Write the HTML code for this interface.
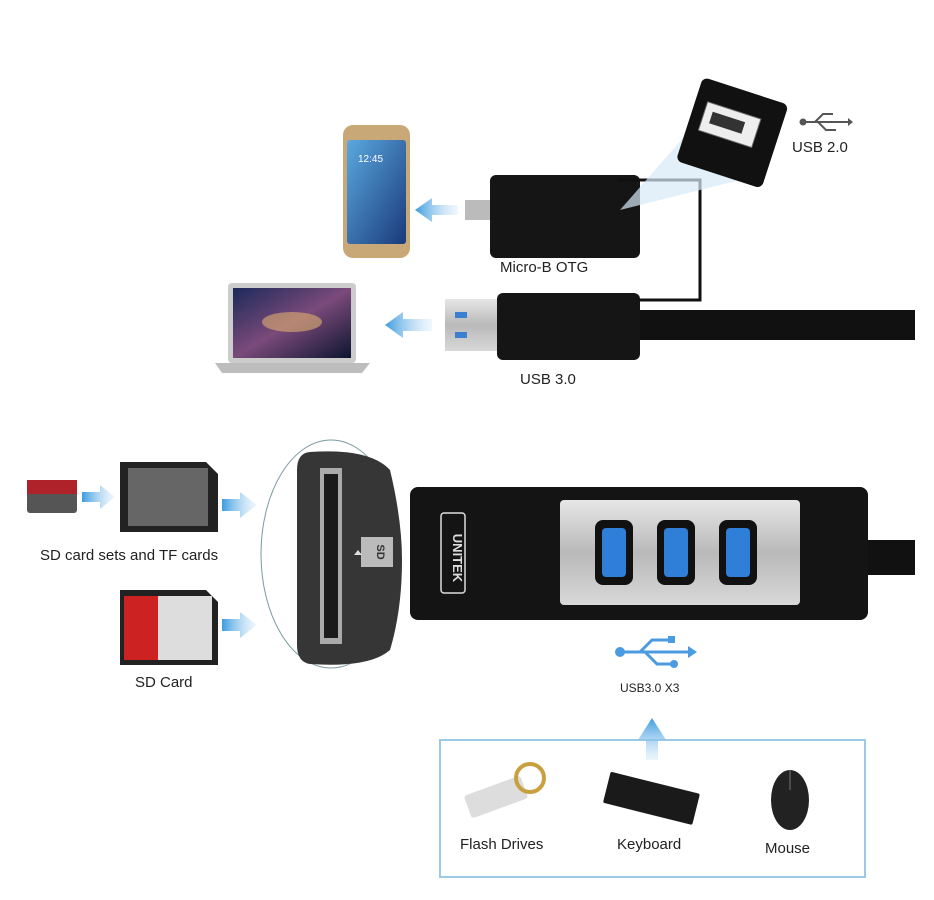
<!DOCTYPE html>
<html><head><meta charset="utf-8"><style>
body{margin:0;background:#fff;width:934px;height:900px;overflow:hidden;position:relative;font-family:"Liberation Sans",sans-serif;color:#222}
.a{position:absolute}
.t{position:absolute;font-size:15px;color:#222;white-space:nowrap}
</style></head><body>
<svg class="a" style="left:0;top:0" width="934" height="900" viewBox="0 0 934 900">
<defs>
<linearGradient id="ar" x1="0" x2="1"><stop offset="0" stop-color="#3d9be0"/><stop offset="1" stop-color="#cfe6f7" stop-opacity=".3"/></linearGradient>
<linearGradient id="arl" x1="1" x2="0"><stop offset="0" stop-color="#cfe6f7" stop-opacity=".3"/><stop offset="1" stop-color="#3d9be0"/></linearGradient>
<linearGradient id="aru" x1="0" y1="0" x2="0" y2="1"><stop offset="0" stop-color="#3d9be0"/><stop offset="1" stop-color="#cfe6f7" stop-opacity=".4"/></linearGradient>
<linearGradient id="sil" x1="0" y1="0" x2="0" y2="1"><stop offset="0" stop-color="#e6e6e6"/><stop offset=".5" stop-color="#b9b9b9"/><stop offset="1" stop-color="#d8d8d8"/></linearGradient>
<linearGradient id="scr" x1="0" y1="0" x2="1" y2="1"><stop offset="0" stop-color="#1c2a5a"/><stop offset=".5" stop-color="#7a4a7a"/><stop offset="1" stop-color="#0d1530"/></linearGradient>
<linearGradient id="ph" x1="0" y1="0" x2="1" y2="1"><stop offset="0" stop-color="#5aa8e0"/><stop offset="1" stop-color="#1a3a7a"/></linearGradient>
</defs>
<rect x="343" y="125" width="67" height="133" rx="10" fill="#c9a878"/>
<rect x="347" y="140" width="59" height="104" rx="3" fill="url(#ph)"/>
<text x="358" y="162" font-size="10" fill="#fff">12:45</text>
<polygon points="415,210 432,198 432,205 458,205 458,215 432,215 432,222" fill="url(#arl)"/>
<polygon points="385,325 403,312 403,319 432,319 432,331 403,331 403,338" fill="url(#arl)"/>
<polygon points="115,497 100,485 100,492 82,492 82,502 100,502 100,509" fill="url(#ar)"/>
<polygon points="257,505 240,492 240,499 222,499 222,511 240,511 240,518" fill="url(#ar)"/>
<polygon points="257,625 240,612 240,619 222,619 222,631 240,631 240,638" fill="url(#ar)"/>
<rect x="465" y="200" width="26" height="20" fill="#bbb"/>
<rect x="490" y="175" width="150" height="83" rx="6" fill="#151515"/>
<polyline points="618,180 700,180 700,300 640,300" fill="none" stroke="#111" stroke-width="3"/>
<polygon points="620,210 690,130 760,175" fill="#d7eaf7" opacity=".7"/>
<g transform="rotate(18 730 130)"><rect x="688" y="88" width="90" height="88" rx="6" fill="#111"/><rect x="700" y="110" width="56" height="30" fill="#eee" stroke="#666"/><rect x="708" y="118" width="34" height="12" fill="#333"/></g>
<rect x="228" y="283" width="128" height="80" rx="4" fill="#ccc"/>
<rect x="233" y="288" width="118" height="70" fill="url(#scr)"/>
<ellipse cx="292" cy="322" rx="30" ry="10" fill="#e0b070" opacity=".6"/>
<path d="M215,363 L370,363 L362,373 L222,373 Z" fill="#bdbdbd"/>
<rect x="445" y="299" width="55" height="52" fill="url(#sil)"/>
<rect x="455" y="312" width="12" height="6" fill="#3a7fd0"/><rect x="455" y="332" width="12" height="6" fill="#3a7fd0"/>
<rect x="497" y="293" width="143" height="67" rx="6" fill="#151515"/>
<rect x="640" y="310" width="275" height="30" fill="#111"/>
<g stroke="#555" stroke-width="2" fill="none"><line x1="804" y1="122" x2="848" y2="122"/><polyline points="815,122 823,114 833,114"/><polyline points="818,122 826,130 836,130"/></g>
<circle cx="803" cy="122" r="3.5" fill="#555"/><polygon points="848,118 853,122 848,126" fill="#555"/>
<g stroke="#4a9be0" stroke-width="3" fill="none"><line x1="620" y1="652" x2="690" y2="652"/><polyline points="640,652 652,640 668,640"/><polyline points="645,652 657,664 672,664"/></g>
<circle cx="620" cy="652" r="5" fill="#4a9be0"/><polygon points="688,646 697,652 688,658" fill="#4a9be0"/><rect x="668" y="636" width="7" height="7" fill="#4a9be0"/><circle cx="674" cy="664" r="4" fill="#4a9be0"/>
<rect x="27" y="480" width="50" height="33" rx="3" fill="#555"/><rect x="27" y="480" width="50" height="14" fill="#b0222a"/>
<path d="M120,462 L206,462 L218,474 L218,532 L120,532 Z" fill="#222"/><rect x="128" y="468" width="80" height="58" fill="#666"/>
<path d="M120,590 L206,590 L218,602 L218,665 L120,665 Z" fill="#222"/><rect x="124" y="596" width="34" height="64" fill="#c22"/><rect x="158" y="596" width="54" height="64" fill="#ddd"/>
<ellipse cx="331" cy="554" rx="70" ry="114" fill="#fff" stroke="#7a9aa0" stroke-width="1"/>
<path d="M310,452 Q370,448 390,470 Q402,520 402,560 Q402,610 390,650 Q370,668 310,664 Q297,662 297,645 L297,470 Q297,453 310,452 Z" fill="#363636"/>
<rect x="320" y="468" width="22" height="176" fill="#aaa"/>
<rect x="324" y="474" width="14" height="164" fill="#1a1a1a"/>
<rect x="361" y="537" width="32" height="30" fill="#bbb"/>
<text x="377" y="552" font-size="11" font-weight="bold" fill="#333" text-anchor="middle" transform="rotate(90 377 552)">SD</text>
<polygon points="354,555 358,550 362,555" fill="#ddd"/>
<rect x="868" y="540" width="47" height="35" fill="#111"/>
<rect x="410" y="487" width="458" height="133" rx="8" fill="#141414"/>
<rect x="560" y="500" width="240" height="105" rx="4" fill="url(#sil)"/>
<g fill="#111"><rect x="595" y="520" width="38" height="65" rx="8"/><rect x="657" y="520" width="38" height="65" rx="8"/><rect x="719" y="520" width="38" height="65" rx="8"/></g>
<g fill="#2f7fd8"><rect x="602" y="528" width="24" height="49" rx="4"/><rect x="664" y="528" width="24" height="49" rx="4"/><rect x="726" y="528" width="24" height="49" rx="4"/></g>
<rect x="441" y="513" width="24" height="80" rx="3" fill="none" stroke="#ddd" stroke-width="1.5"/>
<text x="458" y="553" font-size="13" font-weight="bold" fill="#ddd" text-anchor="middle" transform="rotate(90 453 553)">UNITEK</text>
<rect x="440" y="740" width="425" height="137" fill="#fff" stroke="#9cc9e6" stroke-width="2"/>
<polygon points="652,718 638,740 646,740 646,760 658,760 658,740 666,740" fill="url(#aru)"/>
<rect x="466" y="785" width="60" height="24" rx="3" fill="#ddd" transform="rotate(-20 496 797)"/>
<circle cx="530" cy="778" r="14" fill="none" stroke="#c9a040" stroke-width="4"/>
<g transform="rotate(14 650 800)"><rect x="605" y="782" width="92" height="32" rx="2" fill="#1a1a1a"/></g>
<ellipse cx="790" cy="800" rx="19" ry="30" fill="#222"/><line x1="790" y1="770" x2="790" y2="790" stroke="#777"/>
</svg>
<div class="t" style="left:500px;top:259px">Micro-B OTG</div>
<div class="t" style="left:520px;top:371px">USB 3.0</div>
<div class="t" style="left:792px;top:139px">USB 2.0</div>
<div class="t" style="left:40px;top:547px">SD card sets and TF cards</div>
<div class="t" style="left:135px;top:674px">SD Card</div>
<div class="t" style="left:620px;top:681px;font-size:12px">USB3.0 X3</div>
<div class="t" style="left:460px;top:836px">Flash Drives</div>
<div class="t" style="left:617px;top:836px">Keyboard</div>
<div class="t" style="left:765px;top:840px">Mouse</div>
</body></html>
